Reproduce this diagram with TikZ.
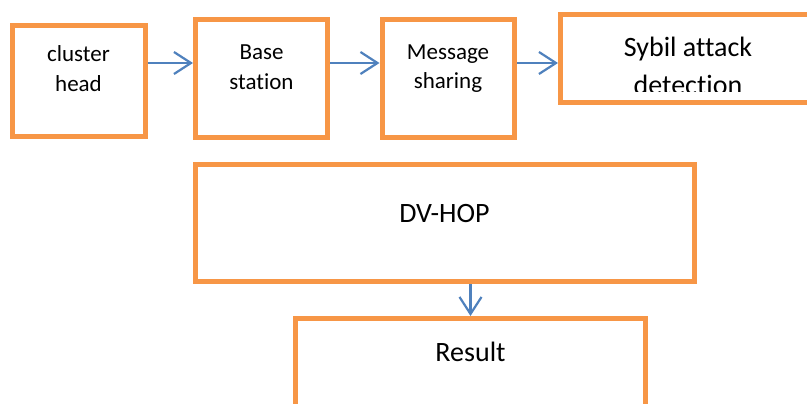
\documentclass[tikz,border=0pt]{standalone}
\usepackage{fontspec}
\setmainfont[Ligatures={NoCommon,NoRare}]{Carlito}
\usepackage{tikz}
\usetikzlibrary{positioning,arrows.meta,calc}
\definecolor{orange}{HTML}{F79646}
\definecolor{blue}{HTML}{4F81BD}

\begin{document}
\begin{tikzpicture}[
    x=1pt, y=-1pt,
    box/.style={draw=orange, line width=5pt, fill=white, inner sep=0pt},
    txt/.style={align=center, inner sep=0pt, anchor=base, font=\fontsize{23}{30}\selectfont},
    bigtxt/.style={align=center, inner sep=0pt, anchor=base, font=\fontsize{28}{38}\selectfont},
    flow/.style={draw=blue, line width=2.2pt, -{Straight Barb[length=17pt,width=22pt]}},
  ]
    \clip (0,0) rectangle (807,404);
    % top row
    \node[box, minimum width=132.5pt, minimum height=111pt] (clh) at (78.75,81) {};
    \node[box, minimum width=132pt, minimum height=118pt] (bs) at (261.5,78.5) {};
    \node[box, minimum width=132.5pt, minimum height=118pt, right=49.5pt of bs] (msg) {};
    \node[box, minimum width=255pt, minimum height=88.5pt] (sad) at (688,58.75) {};
    \node[txt] (clhtxt) at (78.5,92) {cluster\\head};
    \node[txt] (bstxt) at (261.5,90) {Base\\station};
    \node[txt] (msgtxt) at (448,89) {Message\\sharing};
    \begin{scope}
      \clip (sad.north west) rectangle ([yshift=13.5pt]sad.south east);
      \node[bigtxt] (sadtxt) at (688,95) {Sybil attack\\detection};
    \end{scope}
    % bottom boxes
    \node[box, minimum width=499pt, minimum height=117pt] (dvh) at (445,223) {};
    \node[box, minimum width=350pt, minimum height=120pt] (res) at (470.5,378.5) {};
    \node[bigtxt] (dvhtxt) at (444.5,222) {DV-HOP};
    \node[bigtxt] (restxt) at (470.5,361) {Result};
    % arrows
    \coordinate (r1) at (0,63);
    \draw[flow] (clh.east |- r1) -- (bs.west |- r1);
    \draw[flow] (bs.east |- r1) -- (msg.west |- r1);
    \draw[flow] (msg.east |- r1) -- (sad.west |- r1);
    \draw[flow] (dvh.south -| res.north) -- (res.north);
  \end{tikzpicture}
\end{document}
